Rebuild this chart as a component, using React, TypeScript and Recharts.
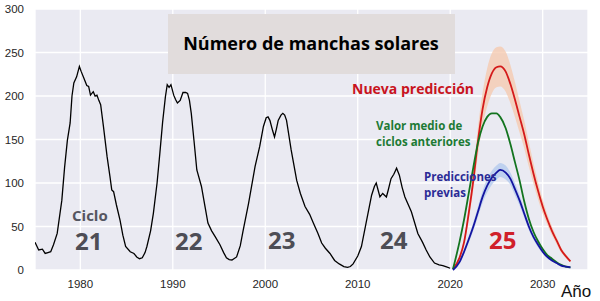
import React from "react";
import { ComposedChart, Line, Area, XAxis, YAxis, CartesianGrid } from "recharts";

// Smoothed monthly sunspot number, cycles 21–24
const sunYears = [
  1975.1, 1975.5, 1975.9, 1976.2, 1976.5, 1976.8, 1977.1, 1977.5, 1978.0, 1978.3,
  1978.6, 1978.9, 1979.1, 1979.3, 1979.6, 1979.9, 1980.1, 1980.4, 1980.7, 1980.9,
  1981.1, 1981.4, 1981.6, 1981.8, 1982.0, 1982.2, 1982.5, 1982.9, 1983.2, 1983.4,
  1983.6, 1983.9, 1984.3, 1984.6, 1984.9, 1985.4, 1985.8, 1986.1, 1986.4, 1986.7,
  1987.0, 1987.2, 1987.6, 1987.9, 1988.3, 1988.6, 1988.9, 1989.2, 1989.4, 1989.6,
  1989.8, 1990.1, 1990.3, 1990.5, 1990.8, 1991.1, 1991.4, 1991.6, 1991.8, 1992.0,
  1992.3, 1992.6, 1993.1, 1993.5, 1993.8, 1994.2, 1994.6, 1995.1, 1995.5, 1995.8,
  1996.1, 1996.4, 1996.9, 1997.3, 1997.6, 1998.2, 1998.9, 1999.4, 1999.8, 2000.1,
  2000.3, 2000.5, 2000.8, 2001.0, 2001.2, 2001.4, 2001.7, 2001.9, 2002.1, 2002.3,
  2002.8, 2003.4, 2003.8, 2004.3, 2004.8, 2005.2, 2005.7, 2006.1, 2006.5, 2007.0,
  2007.5, 2008.0, 2008.5, 2008.9, 2009.2, 2009.5, 2010.0, 2010.4, 2010.9, 2011.2,
  2011.5, 2011.8, 2012.0, 2012.2, 2012.4, 2012.7, 2013.1, 2013.3, 2013.6, 2013.9,
  2014.2, 2014.5, 2014.8, 2015.1, 2015.8, 2016.5, 2017.0, 2017.4, 2017.8, 2018.3,
  2018.8, 2019.2, 2019.6, 2020.0,
];
const sunValues = [
  32, 23, 24, 19, 20, 21, 29, 42, 80, 118,
  149, 169, 200, 215, 222, 234, 228, 220, 212, 211,
  201, 205, 200, 201, 195, 190, 165, 130, 108, 92,
  90, 75, 57, 40, 27, 21, 19, 15, 13, 14,
  20, 27, 45, 65, 100, 134, 170, 199, 213, 210,
  213, 201, 196, 192, 195, 204, 204, 203, 195, 180,
  148, 115, 96, 72, 54, 45, 38, 29, 20, 14,
  12, 11.5, 15, 28, 45, 77, 119, 142, 165, 175,
  176, 172, 160, 153, 162, 172, 178, 180, 178, 172,
  138, 103, 88, 73, 64, 54, 42, 31, 25, 19,
  11, 7, 4, 3, 4, 7, 16, 27, 54, 70,
  86, 96, 100, 92, 84, 88, 84, 92, 105, 110,
  117, 109, 95, 84, 67, 42, 32, 23, 15, 8,
  6, 5, 3.5, 2,
];

// Cycle 25 forecasts
const predYears = [
  2020.3, 2021, 2021.5, 2022, 2022.5, 2023, 2023.5, 2024, 2024.5, 2025,
  2025.4, 2026, 2026.5, 2027, 2027.5, 2028, 2028.5, 2029, 2029.5, 2030,
  2030.5, 2031, 2031.5, 2032, 2032.5, 2033,
];
const newPred = [
  1, 14, 32, 65, 103, 148, 185, 210, 226, 233,
  234, 228, 214, 196, 176, 156, 133, 111, 91, 73,
  58, 45, 34, 23, 16, 10,
];
const newPredHigh = [
  1, 16, 36, 72, 114, 164, 204, 232, 249, 256,
  257, 251, 236, 216, 194, 172, 147, 123, 101, 81,
  64, 50, 38, 26, 18, 11,
];
const newPredLow = [
  1, 12, 28, 58, 92, 132, 166, 188, 203, 210,
  211, 205, 192, 176, 158, 140, 119, 99, 81, 65,
  52, 40, 30, 20, 14, 9,
];
const pastMean = [
  1, 32, 58, 88, 118, 146, 165, 176, 180, 180,
  176, 163, 145, 124, 103, 79, 59, 44, 33, 24,
  17, 13, 9, 6, 4, 3,
];
const prevPred = [
  0, 9, 21, 35, 50, 67, 84, 97, 106, 112,
  115, 112, 105, 93, 80, 65, 50, 38, 29, 21,
  15, 11, 8, 5, 4, 3,
];
const prevPredHigh = [
  0, 11, 24, 39, 55, 73, 91, 105, 114, 120,
  123, 120, 112, 100, 86, 70, 54, 41, 32, 23,
  17, 12, 9, 6, 4, 3,
];
const prevPredLow = [
  0, 7, 18, 31, 45, 61, 77, 89, 98, 104,
  107, 104, 98, 86, 74, 60, 46, 35, 26, 19,
  13, 10, 7, 4, 3, 2,
];

const xTicks = [1980, 1990, 2000, 2010, 2020, 2030];
const yTicks = [0, 50, 100, 150, 200, 250, 300];

const sunData = sunYears.map((year, i) => ({ year, ssn: sunValues[i] }));
const predData = predYears.map((year, i) => ({
  year,
  nueva: newPred[i],
  nuevaBand: [newPredLow[i], newPredHigh[i]],
  medio: pastMean[i],
  previa: prevPred[i],
  previaBand: [prevPredLow[i], prevPredHigh[i]],
}));

const tickStyle = { fontFamily: "'Liberation Sans', Arial, sans-serif", fontSize: 11.5, fill: "#262626" };
const labelFont = "'Open Sans', 'Noto Sans', sans-serif";

export default function App() {
  return (
    <div style={{ position: "absolute", left: 0, top: 0, width: 600, height: 301, background: "#fff" }}>
      <ComposedChart width={600} height={301} margin={{ top: 9, right: 12, bottom: 0, left: 0 }}>
        <CartesianGrid fill="#eaeaf2" stroke="#ffffff" strokeWidth={1.3} vertical horizontal />
        <XAxis
          type="number"
          dataKey="year"
          domain={[1975.1, 2034.9]}
          ticks={xTicks}
          allowDataOverflow
          axisLine={false}
          tickLine={false}
          tickSize={6}
          tickMargin={4}
          height={31}
          tick={tickStyle}
        />
        <YAxis
          type="number"
          domain={[0, 300]}
          ticks={yTicks}
          axisLine={false}
          tickLine={false}
          tickSize={6}
          tickMargin={5}
          width={35}
          tick={tickStyle}
        />
        <Area
          data={predData}
          dataKey="nuevaBand"
          type="monotone"
          stroke="none"
          fill="#f6c8ac"
          fillOpacity={0.75}
          isAnimationActive={false}
        />
        <Area
          data={predData}
          dataKey="previaBand"
          type="monotone"
          stroke="none"
          fill="#b4cbee"
          fillOpacity={0.8}
          isAnimationActive={false}
        />
        <Line data={sunData} dataKey="ssn" type="linear" stroke="#000" strokeWidth={1.3} dot={false} isAnimationActive={false} />
        <Line data={predData} dataKey="nueva" type="monotone" stroke="#d41a1a" strokeWidth={1.8} dot={false} isAnimationActive={false} />
        <Line data={predData} dataKey="medio" type="monotone" stroke="#13741f" strokeWidth={1.8} dot={false} isAnimationActive={false} />
        <Line data={predData} dataKey="previa" type="monotone" stroke="#1414a0" strokeWidth={1.8} dot={false} isAnimationActive={false} />
      </ComposedChart>
      <svg width={600} height={301} style={{ position: "absolute", left: 0, top: 0, pointerEvents: "none" }}>
        <rect x={168} y={14} width={287} height={60} fill="#e1dcdc" />
        <text x={311} y={50} textAnchor="middle" fontFamily={labelFont} fontWeight={700} fontSize={18} fill="#000">
          Número de manchas solares
        </text>
        <text x={352} y={94} fontFamily={labelFont} fontWeight={700} fontSize={14} fill="#c8141e">
          Nueva predicción
        </text>
        <text x={376} y={130} fontFamily={labelFont} fontWeight={700} fontSize={11.5} fill="#1d7a35">
          Valor medio de
        </text>
        <text x={376} y={146} fontFamily={labelFont} fontWeight={700} fontSize={11.5} fill="#1d7a35">
          ciclos anteriores
        </text>
        <text x={424} y={181} fontFamily={labelFont} fontWeight={700} fontSize={11.5} fill="#2b2b96">
          Predicciones
        </text>
        <text x={424} y={197} fontFamily={labelFont} fontWeight={700} fontSize={11.5} fill="#2b2b96">
          previas
        </text>
        <text x={72} y={221} fontFamily={labelFont} fontWeight={700} fontSize={15} fill="#555560">
          Ciclo
        </text>
        <g fontFamily={labelFont} fontWeight={700} fontSize={24} fill="#4d4d55">
          <text x={75} y={250}>21</text>
          <text x={175} y={250}>22</text>
          <text x={268} y={249}>23</text>
          <text x={380} y={249}>24</text>
        </g>
        <text x={489} y={249} fontFamily={labelFont} fontWeight={700} fontSize={24} fill="#d0202a">
          25
        </text>
        <text x={561} y={297} fontFamily="'Liberation Sans', Arial, sans-serif" fontSize={17} fill="#111">
          Año
        </text>
      </svg>
    </div>
  );
}
